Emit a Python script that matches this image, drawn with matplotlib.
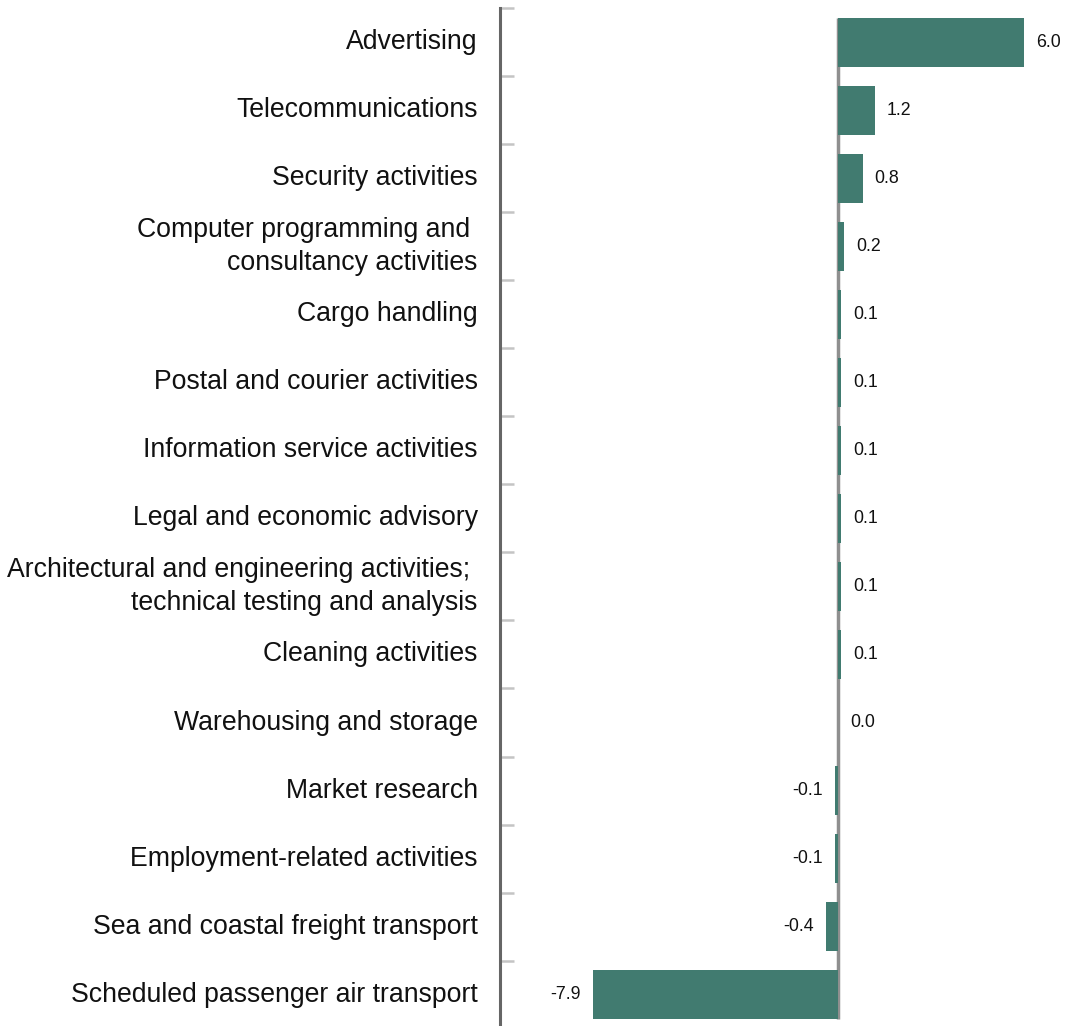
import matplotlib
matplotlib.use("Agg")
import matplotlib.pyplot as plt
from matplotlib.ticker import FixedLocator, NullLocator

# data, top to bottom
categories = [
    "Advertising",
    "Telecommunications",
    "Security activities",
    "Computer programming and \nconsultancy activities",
    "Cargo handling",
    "Postal and courier activities",
    "Information service activities",
    "Legal and economic advisory",
    "Architectural and engineering activities; \ntechnical testing and analysis",
    "Cleaning activities",
    "Warehousing and storage",
    "Market research",
    "Employment-related activities",
    "Sea and coastal freight transport",
    "Scheduled passenger air transport",
]
values = [6.0, 1.2, 0.8, 0.2, 0.1, 0.1, 0.1, 0.1, 0.1, 0.1, 0.0, -0.1, -0.1, -0.4, -7.9]

BAR = "#417b70"
plt.rcParams['font.family'] = ['Liberation Sans', 'DejaVu Sans']

W, H = 1067, 1026
fig = plt.figure(figsize=(W / 100, H / 100), dpi=100)
ax = fig.add_axes([500 / W, 0, 567 / W, 1018 / H])

ys = list(range(len(categories)))
ax.vlines(0, -0.36, len(categories) - 1 + 0.36, color="#8f8f8f", lw=2.5, zorder=1)
ax.barh(ys, values, height=0.72, color=BAR, zorder=2)

for y, v in zip(ys, values):
    off = 12 if v >= 0 else -12
    ax.annotate(f"{v:.1f}", (v, y), xytext=(off, 0), textcoords="offset pixels",
                ha="left" if v >= 0 else "right", va="center",
                fontsize=12.8, color="#111111")

ax.set_xlim(-10.9, 7.39)
ax.set_ylim(len(categories) - 0.54, -0.5)

ax.set_yticks(ys)
ax.set_yticklabels(categories, fontsize=19.2, color="#111111", linespacing=1.35, va="center")
ax.yaxis.set_minor_locator(FixedLocator([i - 0.5 for i in ys]))
ax.tick_params(axis="y", which="major", length=0, pad=16)
ax.tick_params(axis="y", which="minor", direction="in", length=10, width=1.8, color="#c4c4c4")
ax.xaxis.set_major_locator(NullLocator())

for s in ["top", "right", "bottom"]:
    ax.spines[s].set_visible(False)
ax.spines["left"].set_color("#666666")
ax.spines["left"].set_linewidth(2.2)

fig.savefig("out.png", dpi=100)
